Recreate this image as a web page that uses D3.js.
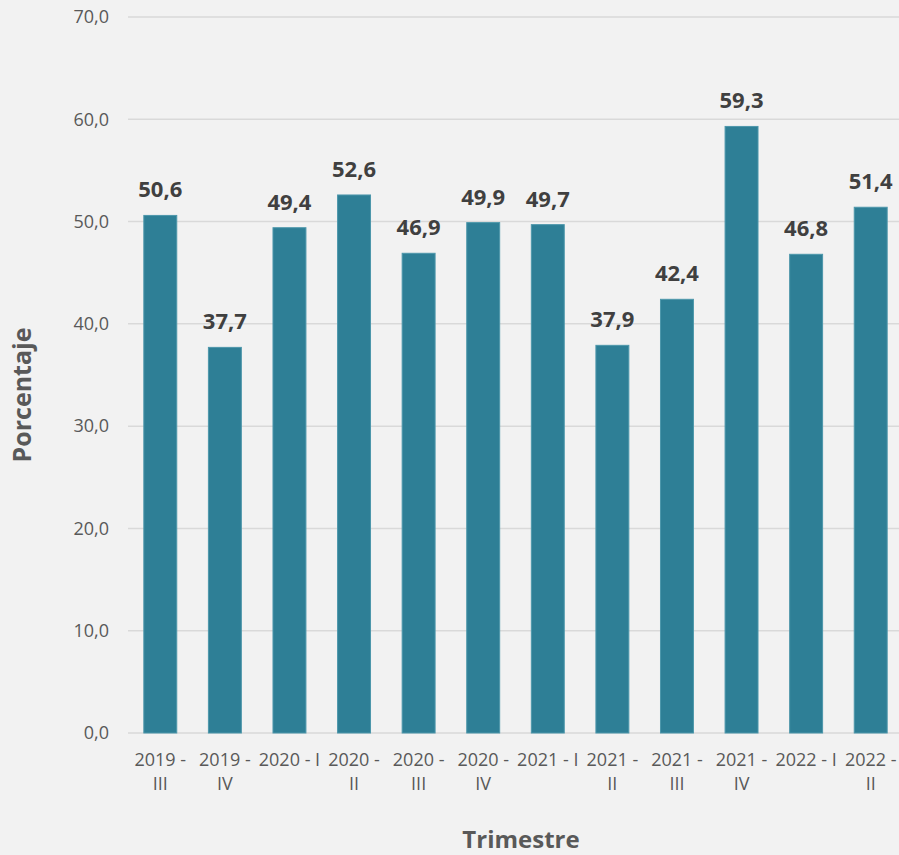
<!DOCTYPE html>
<html>
<head>
<meta charset="utf-8">
<script src="https://cdn.jsdelivr.net/npm/d3@7"></script>
<style>
  html, body { margin: 0; padding: 0; background: #f2f2f2; }
  svg { display: block; }
</style>
</head>
<body>
<svg id="chart" width="899" height="855"></svg>
<script>
// Quarterly percentages
const categories = ["2019 - III", "2019 - IV", "2020 - I", "2020 - II", "2020 - III", "2020 - IV",
                    "2021 - I", "2021 - II", "2021 - III", "2021 - IV", "2022 - I", "2022 - II"];
const values = [50.6, 37.7, 49.4, 52.6, 46.9, 49.9, 49.7, 37.9, 42.4, 59.3, 46.8, 51.4];
const yTicks = [0, 10, 20, 30, 40, 50, 60, 70];

const W = 899, H = 855;
const margin = { left: 128, right: -4, top: 17, bottom: 122 };
const font = "'Open Sans', 'Noto Sans', sans-serif";
const fmt = v => d3.format(".1f")(v).replace(".", ",");

const svg = d3.select("#chart");
svg.append("rect").attr("width", W).attr("height", H).attr("fill", "#f2f2f2");

const x = d3.scaleBand()
  .domain(categories)
  .range([margin.left, W - margin.right])
  .paddingInner(0.49)
  .paddingOuter(0.245);

const y = d3.scaleLinear().domain([0, 70]).range([H - margin.bottom, margin.top]);

// gridlines
svg.append("g")
  .selectAll("line")
  .data(yTicks)
  .join("line")
  .attr("x1", margin.left)
  .attr("x2", W)
  .attr("y1", d => y(d))
  .attr("y2", d => y(d))
  .attr("stroke", "#d9d9d9")
  .attr("stroke-width", 1.5);

// y axis labels
const yAxis = svg.append("g")
  .attr("transform", `translate(${margin.left},0)`)
  .call(d3.axisLeft(y).tickValues(yTicks).tickFormat(fmt).tickSize(0).tickPadding(19));
yAxis.select(".domain").remove();
yAxis.selectAll("text")
  .attr("font-family", font)
  .attr("font-size", 18)
  .attr("fill", "#595959");

// bars
svg.append("g")
  .selectAll("rect")
  .data(values)
  .join("rect")
  .attr("x", (d, i) => x(categories[i]))
  .attr("width", x.bandwidth())
  .attr("y", d => y(d))
  .attr("height", d => y(0) - y(d))
  .attr("fill", "#2e7f96")
  .attr("stroke", "#4d97ab")
  .attr("stroke-width", 1);

// value labels
svg.append("g")
  .selectAll("text")
  .data(values)
  .join("text")
  .attr("x", (d, i) => x(categories[i]) + x.bandwidth() / 2)
  .attr("y", d => y(d) - 18)
  .attr("text-anchor", "middle")
  .attr("font-family", font)
  .attr("font-size", 22)
  .attr("font-weight", "bold")
  .attr("fill", "#404040")
  .text(d => fmt(d));

// x axis labels, wrapped to the band width
const xAxis = svg.append("g")
  .attr("transform", `translate(0,${y(0)})`)
  .call(d3.axisBottom(x).tickSize(0).tickPadding(20));
xAxis.select(".domain").remove();
xAxis.selectAll("text")
  .attr("font-family", font)
  .attr("font-size", 18)
  .attr("fill", "#595959")
  .each(function (d) {
    const t = d3.select(this);
    const words = d.split(" ");
    const maxW = 64;
    t.text(null).attr("dy", null);
    let line = [];
    let tspan = t.append("tspan").attr("x", 0).attr("dy", "0.71em");
    for (const w of words) {
      line.push(w);
      tspan.text(line.join(" "));
      if (tspan.node().getComputedTextLength() > maxW && line.length > 1) {
        line.pop();
        tspan.text(line.join(" "));
        line = [w];
        tspan = t.append("tspan").attr("x", 0).attr("dy", 24).text(w);
      }
    }
  });

// axis titles
svg.append("text")
  .attr("transform", `translate(31,${(y(0) + y(70)) / 2 + 20}) rotate(-90)`)
  .attr("text-anchor", "middle")
  .attr("font-family", font)
  .attr("font-size", 25)
  .attr("font-weight", "bold")
  .attr("fill", "#595959")
  .text("Porcentaje");

svg.append("text")
  .attr("x", 521)
  .attr("y", 848)
  .attr("text-anchor", "middle")
  .attr("font-family", font)
  .attr("font-size", 24)
  .attr("font-weight", "bold")
  .attr("fill", "#595959")
  .text("Trimestre");
</script>
</body>
</html>
